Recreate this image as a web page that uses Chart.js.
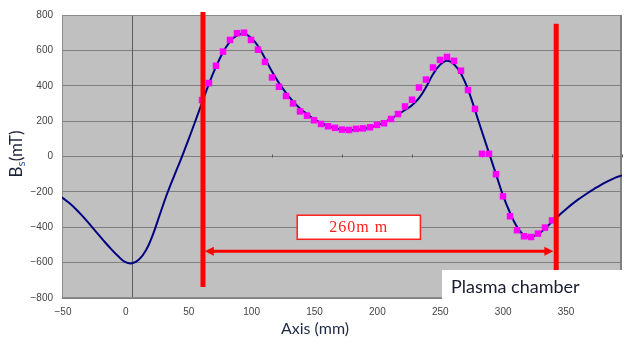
<!DOCTYPE html>
<html>
<head>
<meta charset="utf-8">
<script src="https://cdn.jsdelivr.net/npm/chart.js@4.4.0/dist/chart.umd.min.js"></script>
<style>
  html, body { margin: 0; padding: 0; background: #fff; }
  canvas { display: block; }
</style>
</head>
<body>
<canvas id="myChart" width="629" height="345"></canvas>
<script>
// calculated field along the axis: position (mm), Bs (mT)
const curveX = [-50, -45, -40, -35, -30, -25, -20, -15, -10, -5, 0, 5, 10, 15, 20, 25, 30, 35, 40, 45, 50, 55, 60, 65,
    70, 75, 80, 85, 90, 95, 100, 105, 110, 115, 120, 125, 130, 135, 140, 145, 150, 155, 160, 165,
    170, 175, 180, 185, 190, 195, 200, 205, 210, 215, 220, 225, 230, 235, 240, 245, 250, 255, 260, 265,
    270, 275, 280, 285, 290, 295, 300, 305, 310, 315, 320, 325, 330, 335, 340, 345, 350];
const curveY = [-231, -262, -298, -340, -385, -432, -478, -522, -563, -596, -604, -582, -530, -440, -325, -212, -112, -15, 88, 195, 303, 412, 508, 590,
    650, 685, 694, 672, 625, 555, 480, 415, 360, 312, 272, 240, 212, 190, 172, 160, 153, 150, 151, 156,
    164, 176, 193, 214, 238, 263, 290, 330, 392, 465, 518, 541, 522, 468, 380, 262, 140, 20, -100, -220,
    -318, -398, -445, -455, -438, -408, -368, -333, -298, -265, -236, -209, -184, -160, -139, -121, -107];

// measured values
const measX = [50, 55, 60, 65, 70, 75, 80, 85, 90, 95, 100, 105, 110, 115, 120, 125, 130, 135, 140, 145,
    150, 155, 160, 165, 170, 175, 180, 185, 190, 195, 200, 205, 210, 215, 220, 225, 230, 235, 240, 245,
    250, 255, 260, 265, 270, 275, 280, 285, 290, 295, 300];
const measY = [319, 415, 513, 593, 659, 697, 700, 659, 604, 535, 447, 394, 342, 300, 255, 231, 205, 184, 171, 162,
    152, 150, 156, 159, 165, 179, 188, 212, 240, 283, 321, 390, 435, 503, 546, 563, 541, 485, 376, 269,
    15, 15, -100, -225, -338, -417, -451, -455, -436, -402, -361];

const xTicks = [-50, 0, 50, 100, 150, 200, 250, 300, 350];
const yTicks = [-800, -600, -400, -200, 0, 200, 400, 600, 800];

// red markings of the chamber (axis units)
const chamberLines = [
    { x: 50.7, top: 817, bottom: -738 },
    { x: 303, top: 751, bottom: -800 }
];
const arrow = { from: 52, to: 301, y: -535 };
const lengthLabel = { text: '260m m', x1: 118, x2: 206, y1: -332, y2: -468 };

function fmt(v) {
    return v < 0 ? '\u2212' + (-v) : '' + v;
}

const decor = {
    id: 'decor',
    beforeDraw(chart) {
        const { ctx, chartArea: a } = chart;
        ctx.save();
        ctx.fillStyle = '#c0c0c0';
        ctx.fillRect(a.left, a.top, a.right - a.left, a.bottom - a.top);
        ctx.restore();
    },
    beforeDatasetsDraw(chart) {
        const { ctx, chartArea: a, scales: { x, y } } = chart;
        ctx.save();
        ctx.strokeStyle = '#5c5c5c';
        ctx.lineWidth = 1;
        const x0 = Math.round(x.getPixelForValue(0)) + 0.5;
        ctx.beginPath();
        ctx.moveTo(x0, a.top);
        ctx.lineTo(x0, a.bottom);
        // little tick marks on the zero line
        const y0 = Math.round(y.getPixelForValue(0)) + 0.5;
        xTicks.forEach(v => {
            const px = Math.round(x.getPixelForValue(v)) + 0.5;
            ctx.moveTo(px, y0 - 3);
            ctx.lineTo(px, y0);
        });
        ctx.stroke();
        // plot border
        ctx.strokeStyle = '#8c8c8c';
        ctx.strokeRect(a.left + 0.5, a.top + 0.5, a.right - a.left - 1, a.bottom - a.top - 1);
        ctx.lineWidth = 2;
        ctx.strokeStyle = '#808080';
        ctx.beginPath();
        ctx.moveTo(a.right - 1, a.top);
        ctx.lineTo(a.right - 1, a.bottom);
        ctx.stroke();
        ctx.restore();
    },
    afterDraw(chart) {
        const { ctx, scales: { x, y } } = chart;
        ctx.save();

        // chamber edges
        ctx.strokeStyle = '#ff0000';
        ctx.lineWidth = 5;
        chamberLines.forEach(l => {
            const px = x.getPixelForValue(l.x);
            ctx.beginPath();
            ctx.moveTo(px, y.getPixelForValue(l.top));
            ctx.lineTo(px, y.getPixelForValue(l.bottom));
            ctx.stroke();
        });

        // double arrow
        const ay = y.getPixelForValue(arrow.y);
        const ax1 = x.getPixelForValue(arrow.from);
        const ax2 = x.getPixelForValue(arrow.to);
        ctx.lineWidth = 3;
        ctx.beginPath();
        ctx.moveTo(ax1 + 6, ay);
        ctx.lineTo(ax2 - 6, ay);
        ctx.stroke();
        ctx.fillStyle = '#ff0000';
        ctx.beginPath();
        ctx.moveTo(ax1, ay);
        ctx.lineTo(ax1 + 9, ay - 4.5);
        ctx.lineTo(ax1 + 9, ay + 4.5);
        ctx.closePath();
        ctx.moveTo(ax2, ay);
        ctx.lineTo(ax2 - 9, ay - 4.5);
        ctx.lineTo(ax2 - 9, ay + 4.5);
        ctx.closePath();
        ctx.fill();

        // 260mm label
        const bx1 = x.getPixelForValue(lengthLabel.x1), bx2 = x.getPixelForValue(lengthLabel.x2);
        const by1 = y.getPixelForValue(lengthLabel.y1), by2 = y.getPixelForValue(lengthLabel.y2);
        ctx.fillStyle = '#ffffff';
        ctx.fillRect(bx1, by1, bx2 - bx1, by2 - by1);
        ctx.lineWidth = 1.5;
        ctx.strokeStyle = '#ff2020';
        ctx.strokeRect(bx1, by1, bx2 - bx1, by2 - by1);
        ctx.fillStyle = '#ff2020';
        ctx.font = '16px "Liberation Serif"';
        ctx.letterSpacing = '1px';
        ctx.textAlign = 'center';
        ctx.textBaseline = 'middle';
        ctx.fillText(lengthLabel.text, (bx1 + bx2) / 2, (by1 + by2) / 2 + 1);
        ctx.letterSpacing = '0px';

        // Plasma chamber caption
        ctx.fillStyle = '#ffffff';
        ctx.fillRect(442, 270, 187, 35);
        ctx.fillStyle = '#1a1c30';
        ctx.font = '18px Lato';
        ctx.textAlign = 'left';
        ctx.textBaseline = 'alphabetic';
        ctx.fillText('Plasma chamber', 451, 293);

        // axis titles
        ctx.fillStyle = '#1f2a44';
        ctx.font = '16px Lato';
        ctx.textAlign = 'center';
        ctx.fillText('Axis (mm)', 315, 334);

        ctx.translate(22, 154);
        ctx.rotate(-Math.PI / 2);
        ctx.textAlign = 'left';
        ctx.font = '17px Lato';
        const wB = ctx.measureText('B').width;
        const wRest = ctx.measureText('(mT)').width;
        ctx.font = '12px Lato';
        const wS = ctx.measureText('s').width;
        const start = -(wB + wS + wRest) / 2;
        ctx.font = '17px Lato';
        ctx.fillStyle = '#1c2238';
        ctx.fillText('B', start, 0);
        ctx.font = '12px Lato';
        ctx.fillStyle = '#2f55b5';
        ctx.fillText('s', start + wB, 3);
        ctx.font = '17px Lato';
        ctx.fillStyle = '#1c2238';
        ctx.fillText('(mT)', start + wB + wS, 0);
        ctx.restore();
    }
};

new Chart('myChart', {
    type: 'scatter',
    data: {
        datasets: [{
            data: curveX.map((v, i) => ({ x: v, y: curveY[i] })),
            showLine: true,
            borderColor: '#000080',
            borderWidth: 2,
            pointRadius: 0,
            tension: 0.4,
            xAxisID: 'x',
            order: 2
        }, {
            data: measX.map((v, i) => ({ x: v, y: measY[i] })),
            showLine: false,
            pointStyle: 'rect',
            pointRadius: 4.6,
            backgroundColor: '#ff00ff',
            borderWidth: 0,
            xAxisID: 'x',
            order: 1
        }]
    },
    options: {
        responsive: false,
        animation: false,
        layout: { padding: { top: 14, right: 7, left: 0, bottom: 0 } },
        plugins: { legend: { display: false }, tooltip: { enabled: false } },
        scales: {
            x: {
                type: 'linear',
                display: false,
                min: -50,
                max: 350
            },
            x2: {
                type: 'linear',
                position: 'bottom',
                min: -50.8,
                max: 394.5,
                afterBuildTicks: s => { s.ticks = xTicks.map(v => ({ value: v })); },
                afterFit: s => { s.height = 47; },
                grid: { display: false, drawTicks: false },
                border: { display: false },
                ticks: {
                    padding: 8,
                    maxRotation: 0,
                    autoSkip: false,
                    color: '#444',
                    font: { family: 'Liberation Sans', size: 10 },
                    callback: fmt
                }
            },
            y: {
                type: 'linear',
                min: -800,
                max: 800,
                afterBuildTicks: s => { s.ticks = yTicks.map(v => ({ value: v })); },
                afterFit: s => { s.width = 62; },
                grid: { color: '#7f7f7f', drawTicks: false },
                border: { display: false },
                ticks: {
                    padding: 9,
                    color: '#444',
                    font: { family: 'Liberation Sans', size: 10 },
                    callback: fmt
                }
            }
        }
    },
    plugins: [decor]
});
</script>
</body>
</html>
